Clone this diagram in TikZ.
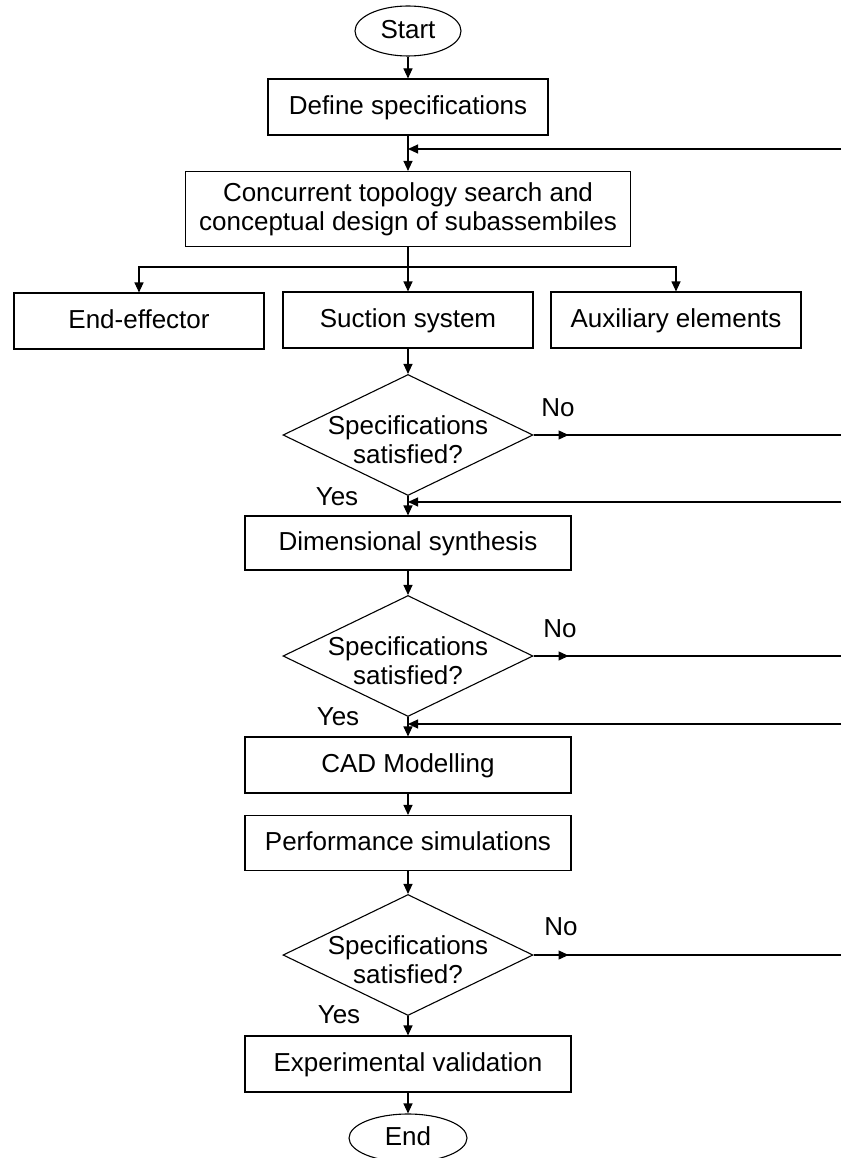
\documentclass[tikz,border=0pt]{standalone}
\usepackage{fontspec}
\setmainfont{Liberation Sans}
\usetikzlibrary{shapes.geometric,arrows.meta}

\begin{document}
\begin{tikzpicture}[x=1pt,y=-1pt,line width=1.1pt,
  every node/.style={font=\fontsize{26}{29}\selectfont},
  box/.style={draw,rectangle,minimum width=326pt,minimum height=55pt,inner sep=0pt,text height=18pt,text depth=3pt},
  term/.style={draw,ellipse,minimum width=106pt,minimum height=50pt,inner sep=0pt,text height=18pt,text depth=3pt},
  dec/.style={draw,diamond,minimum width=250pt,minimum height=121pt,inner sep=0pt},
  arr/.style={-{Triangle[length=10pt,width=9pt]}}]
\useasboundingbox (0,0) rectangle (841,1158);
\node[term] (start) at (408,31){Start};
\node[box,minimum width=280pt,minimum height=56pt] (spec) at (408,107){Define specifications};
\node[box,minimum width=445pt,minimum height=75pt,align=center,text height=,text depth=] (topo) at (408,209){Concurrent topology search and\\conceptual design of subassembiles};
\node[box,minimum width=250pt,minimum height=56pt] (ee) at (139,321){End-effector};
\node[box,minimum width=250pt,minimum height=56pt] (suc) at (408,320){Suction system};
\node[box,minimum width=250pt,minimum height=56pt] (aux) at (676,320){Auxiliary elements};
\node[dec] (d1) at (408,435){};
\node[align=center] (q1) at (408,440){Specifications\\satisfied?};
\node[box,minimum height=54pt] (dim) at (408,543){Dimensional synthesis};
\node[dec] (d2) at (408,656){};
\node[align=center] (q2) at (408,661){Specifications\\satisfied?};
\node[box,minimum height=56pt] (cad) at (408,765){CAD Modelling};
\node[box] (perf) at (408,843){Performance simulations};
\node[dec] (d3) at (408,955){};
\node[align=center] (q3) at (408,960){Specifications\\satisfied?};
\node[box,minimum height=56pt] (exp) at (408,1064){Experimental validation};
\node[term,minimum width=118pt,minimum height=48pt] (end) at (408,1138){End};
\node (no1) at (558,408){No};
\node (no2) at (560,629){No};
\node (no3) at (561,927){No};
\node (yes1) at (337,497){Yes};
\node (yes2) at (338,717){Yes};
\node (yes3) at (339,1015){Yes};
\coordinate (br) at (408,267);
\coordinate (r1) at (841,435);
\coordinate (r2) at (841,656);
\coordinate (r3) at (841,955);
\coordinate (f1) at (841,149);
\coordinate (f2) at (841,502);
\coordinate (f3) at (841,724);
\draw[arr] (start) -- (spec);
\draw[arr] (spec) -- (topo);
\draw (topo) -- (br);
\draw[arr] (br) -- (suc);
\draw[arr] (br) -| (ee);
\draw[arr] (br) -| (aux);
\draw[arr] (suc) -- (d1);
\draw[arr] (d1) -- (dim);
\draw[arr] (dim) -- (d2);
\draw[arr] (d2) -- (cad);
\draw[arr] (cad) -- (perf);
\draw[arr] (perf) -- (d3);
\draw[arr] (d3) -- (exp);
\draw[arr] (exp) -- (end);
\draw (d1.east) -- (r1);
\draw (d2.east) -- (r2);
\draw (d3.east) -- (r3);
\draw[arr] (d1.east) -- ++(35,0);
\draw[arr] (d2.east) -- ++(35,0);
\draw[arr] (d3.east) -- ++(35,0);
\draw[arr] (f1) -- (f1 -| spec.south);
\draw[arr] (f2) -- (f2 -| d1.south);
\draw[arr] (f3) -- (f3 -| d2.south);
\end{tikzpicture}
\end{document}
